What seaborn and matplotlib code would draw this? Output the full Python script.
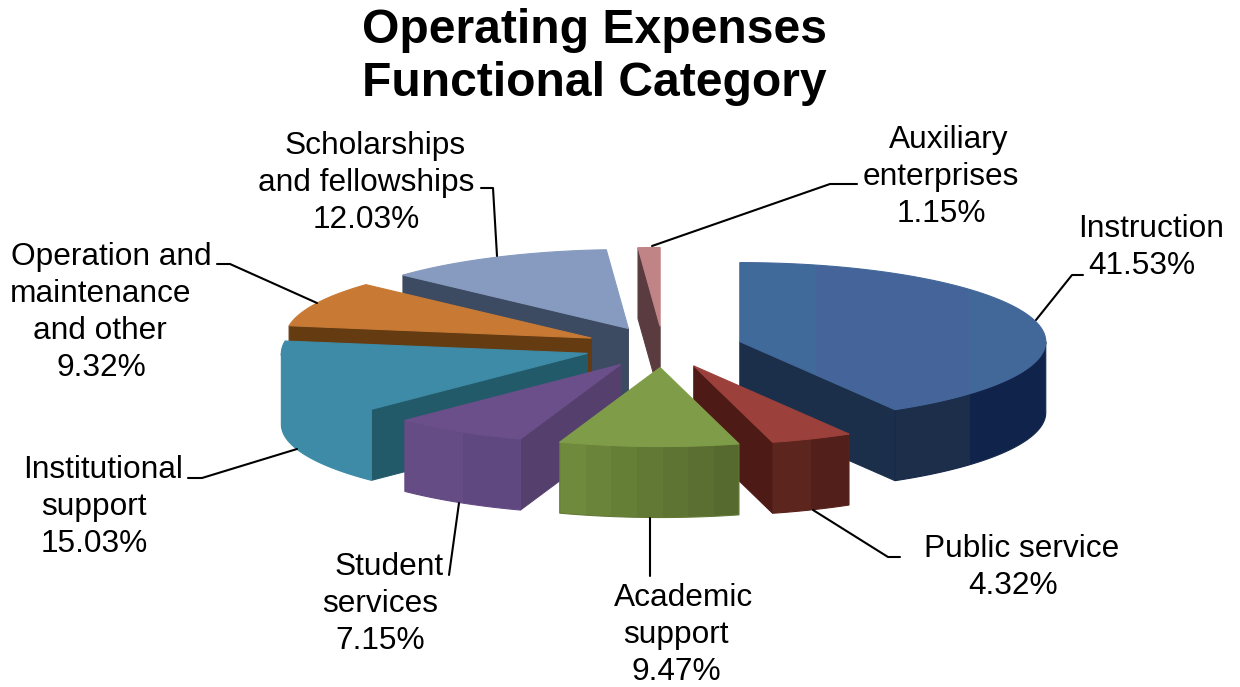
import numpy as np
import matplotlib
matplotlib.use('Agg')
import matplotlib.pyplot as plt
import seaborn as sns
from matplotlib.patches import Polygon

labels = [['Instruction'], ['Public service'], ['Academic', 'support'], ['Student', 'services'],
          ['Institutional', 'support'], ['Operation and', 'maintenance', 'and other'],
          ['Scholarships', 'and fellowships'], ['Auxiliary', 'enterprises']]
shares = [41.53, 4.32, 9.47, 7.15, 15.03, 9.32, 12.03, 1.15]

# colours of each slice: top face, round wall, cut wall
top_cols = [['#3f6a9a', '#45659a', '#45659a', '#426799'], ['#9c403b'], ['#7f9d48'], ['#6b4f8a'],
            ['#3d8ba6'], ['#c87a35'], ['#869bbf'], ['#c08486']]
wall_cols = [['#1c2e49', '#10234a'], ['#5c251e', '#521f1a'], ['#6f8a3c', '#566a2f'], ['#664c85', '#5f4880'],
             ['#3d8ba6'], ['#653b12'], ['#3c4a62'], ['#5a3b40']]
cut_cols = ['#1b2f4b', '#4d1a16', '#566a2f', '#55406d', '#235a6a', '#653b12', '#3c4a62', '#5a3b40']

# centre x of every label line, then the y of the first line
line_x = [[1151, 1142], [1022, 1013], [684, 676, 676], [389, 380, 380], [103, 94, 94],
          [111, 101, 100, 101], [375, 366, 366], [949, 941, 941]]
line_y = [226, 546, 595, 564, 467, 254, 143, 137]
line_gap = 37

leaders = [[(1036, 320), (1072, 275), (1083, 275)],
           [(813, 510), (888, 557), (900, 557)],
           [(650, 518), (650, 576)],
           [(459, 503), (449, 575)],
           [(297, 449), (202, 478), (188, 478)],
           [(317, 303), (230, 264), (217, 264)],
           [(497, 256), (493, 188), (481, 188)],
           [(652, 246), (830, 184), (857, 184)]]

cx, cy = 663, 347
rx, ry = 306, 79
depth = 71
explode = 0.26

sns.set_theme(style='white')
plt.rcParams['font.family'] = ['Liberation Sans', 'DejaVu Sans']

fig, ax = plt.subplots(figsize=(12.4, 6.87), dpi=100)
fig.subplots_adjust(0, 0, 1, 1)
ax.set_axis_off()
z = [1]


def face(verts, cols):
    verts = np.array(verts)
    band = np.array([matplotlib.colors.to_rgb(c) for c in cols])[None, :, :]
    x0, x1 = verts[:, 0].min(), verts[:, 0].max()
    y0, y1 = verts[:, 1].min(), verts[:, 1].max()
    im = ax.imshow(band, extent=(x0, x1, y1, y0), aspect='auto', interpolation='nearest', zorder=z[0])
    im.set_clip_path(Polygon(verts, closed=True, transform=ax.transData))
    ax.add_patch(Polygon(verts, closed=True, fill=False, edgecolor=band[0].mean(axis=0), lw=0.8, zorder=z[0]))
    z[0] += 1


def on_rim(ox, oy, t):
    return np.column_stack([ox + rx * np.sin(t), oy - ry * np.cos(t)])


fracs = np.array(shares) / sum(shares)
ends = np.cumsum(fracs) * 2 * np.pi
starts = ends - fracs * 2 * np.pi
mids = (starts + ends) / 2

# back slices first
for i in np.argsort(-np.cos(mids), kind='stable'):
    t1, t2, m = starts[i], ends[i], mids[i]
    ox, oy = on_rim(cx, cy, m)[0] * explode + np.array([cx, cy]) * (1 - explode)
    arc = on_rim(ox, oy, np.linspace(t1, t2, 120))
    apex = np.array([ox, oy])
    inner = on_rim(0, 0, m)[0]

    for corner in (arc[0], arc[-1]):
        e = corner - apex
        if abs(e[0]) > 1 and e[0] * (e[0] * inner[1] - e[1] * inner[0]) < 0:
            face([apex, corner, corner + [0, depth], apex + [0, depth]], [cut_cols[i]])

    lo, hi = max(t1, np.pi / 2), min(t2, 1.5 * np.pi)
    if lo < hi:
        rim = on_rim(ox, oy, np.linspace(lo, hi, 120))
        cols = wall_cols[i]
        if i == 2:
            cols = sns.blend_palette(cols, 7)
        face(np.vstack([rim, rim[::-1] + [0, depth]]), cols)

    face(np.vstack([apex, arc]), top_cols[i])

for line in leaders:
    xs, ys = zip(*line)
    sns.lineplot(x=list(xs), y=list(ys), ax=ax, color='black', lw=1.5, sort=False,
                 estimator=None, zorder=50, legend=False)

for name, share, xs, y in zip(labels, shares, line_x, line_y):
    for k, (txt, x) in enumerate(zip(name + ['%.2f%%' % share], xs)):
        ax.text(x, y + k * line_gap + 11, txt, ha='center', va='baseline', fontsize=22.8,
                color='black', zorder=60)

ax.text(594, 57, 'Operating Expenses\nFunctional Category', ha='center', va='center', fontsize=34.6,
        fontweight='bold', color='black', linespacing=1.24, zorder=60)

ax.set_xlim(0, 1240)
ax.set_ylim(687, 0)
ax.set_xlabel('')
ax.set_ylabel('')
fig.savefig('out.png', dpi=100, facecolor='white')
